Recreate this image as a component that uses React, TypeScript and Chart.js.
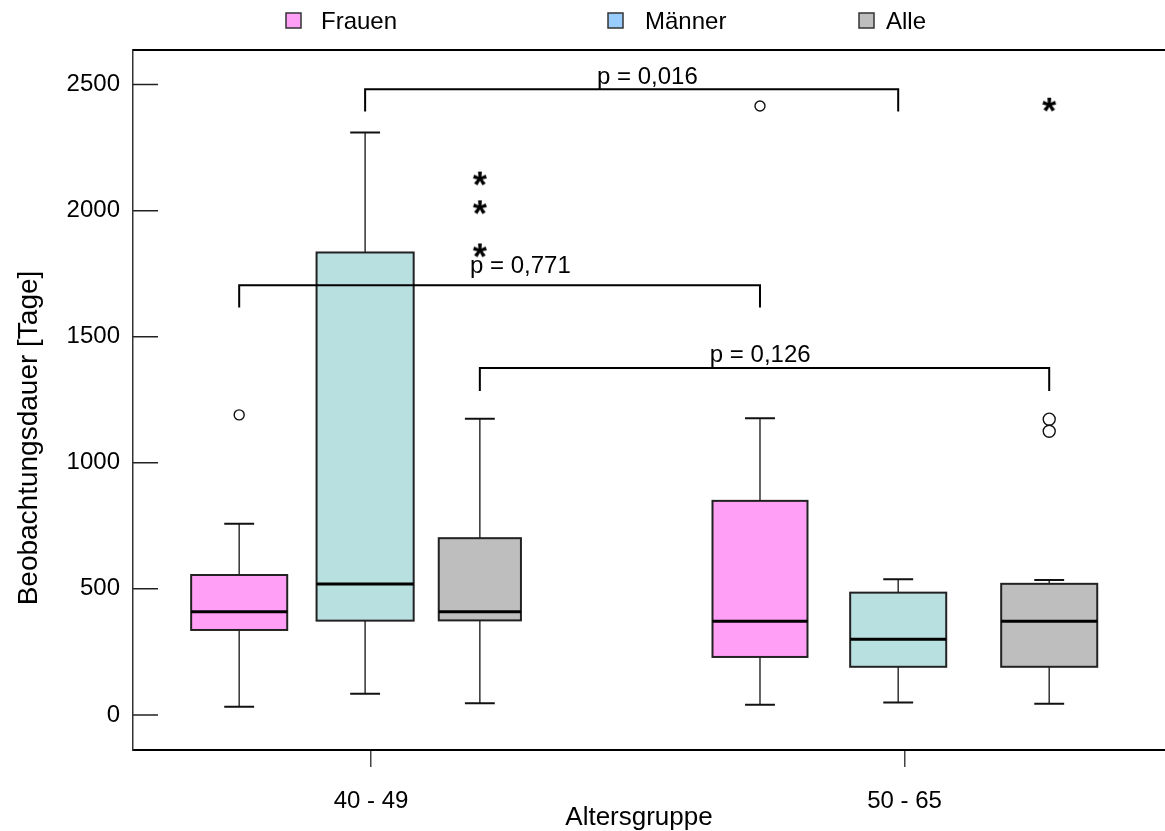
import React, { useEffect, useRef } from 'react';
import { Chart, registerables } from 'chart.js';

Chart.register(...registerables);

// ---- data ----
const ageGroups = ['40 - 49', '50 - 65'];
const seriesNames = ['Frauen', 'Männer', 'Alle'];
const durationTicks = [0, 500, 1000, 1500, 2000, 2500];

// per age group: [lower whisker, Q1, median, Q3, upper whisker] in days
const frauenStats = [[33, 337, 409, 555, 758], [40, 230, 372, 849, 1177]];
const maennerStats = [[84, 374, 519, 1834, 2310], [49, 191, 300, 485, 538]];
const alleStats = [[46, 375, 409, 701, 1175], [44, 191, 372, 520, 535]];

// outliers (circles) and extreme values (asterisks) per age group
const frauenOutliers = [[1190], [2415]];
const maennerOutliers: number[][] = [[], []];
const alleOutliers = [[], [1173, 1125]];
const alleExtremes = [[1842, 2013, 2127], [2420]];

// group comparisons: which series is compared between the age groups
const pLabels = ['p = 0,016', 'p = 0,771', 'p = 0,126'];
const pSeries = [1, 0, 2];

// ---- layout & style ----
const FONT = '"Liberation Sans", Arial, Helvetica, sans-serif';
const boxFill = ['#FF9FF6', '#B9E0E1', '#BEBEBE'];
const legendFill = ['#FF9FF6', '#99CCFF', '#BEBEBE'];

const boxLayout = {
  offsets: [[-0.247, -0.271], [-0.011, -0.012], [0.204, 0.271]],
  widths: [[0.18, 0.178], [0.182, 0.18], [0.154, 0.18]],
  cap: 0.056,
};

const bracketLayout = {
  level: [2481, 1704, 1376],
  drop: [2393, 1616, 1285],
  labelX: [1.4236, 1.1856, 1.635],
  labelY: [2503, 1751, 1400],
};

const legendLayout = [
  { box: 286, text: 321 },
  { box: 608, text: 645 },
  { box: 859, text: 886 },
];

const allStats = [frauenStats, maennerStats, alleStats];

function posOf(series: number, group: number) {
  return group + 1 + boxLayout.offsets[series][group];
}

function makeAsterisk(): HTMLCanvasElement {
  const size = 24;
  const c = document.createElement('canvas');
  c.width = size;
  c.height = size;
  const g = c.getContext('2d')!;
  g.font = `bold 36px ${FONT}`;
  g.fillStyle = '#000';
  const m = g.measureText('*');
  const w = m.actualBoundingBoxLeft + m.actualBoundingBoxRight;
  const h = m.actualBoundingBoxAscent + m.actualBoundingBoxDescent;
  const x = (size - w) / 2 + m.actualBoundingBoxLeft;
  const y = (size - h) / 2 + m.actualBoundingBoxAscent;
  g.fillText('*', x, y);
  return c;
}

const boxPlotPlugin = {
  id: 'boxPlot',
  beforeDatasetsDraw(chart: any) {
    const { ctx, scales } = chart;
    const x = scales.x;
    const y = scales.y;
    const unit = (v: number) => x.getPixelForValue(v) - x.getPixelForValue(0);
    ctx.save();
    allStats.forEach((stats, s) => {
      stats.forEach(([lo, q1, med, q3, hi], g) => {
        const cx = x.getPixelForValue(posOf(s, g));
        const half = unit(boxLayout.widths[s][g]) / 2;
        const capHalf = unit(boxLayout.cap) / 2;
        const pLo = y.getPixelForValue(lo);
        const pQ1 = y.getPixelForValue(q1);
        const pMed = y.getPixelForValue(med);
        const pQ3 = y.getPixelForValue(q3);
        const pHi = y.getPixelForValue(hi);

        // whiskers
        ctx.strokeStyle = '#333';
        ctx.lineWidth = 1.5;
        ctx.beginPath();
        ctx.moveTo(cx, pHi);
        ctx.lineTo(cx, pQ3);
        ctx.moveTo(cx, pQ1);
        ctx.lineTo(cx, pLo);
        ctx.stroke();
        ctx.strokeStyle = '#111';
        ctx.lineWidth = 2;
        ctx.beginPath();
        ctx.moveTo(cx - capHalf, pHi);
        ctx.lineTo(cx + capHalf, pHi);
        ctx.moveTo(cx - capHalf, pLo);
        ctx.lineTo(cx + capHalf, pLo);
        ctx.stroke();

        // box
        ctx.fillStyle = boxFill[s];
        ctx.fillRect(cx - half, pQ3, half * 2, pQ1 - pQ3);
        ctx.strokeStyle = '#222';
        ctx.lineWidth = 2;
        ctx.strokeRect(cx - half, pQ3, half * 2, pQ1 - pQ3);

        // median
        ctx.strokeStyle = '#000';
        ctx.lineWidth = 3;
        ctx.beginPath();
        ctx.moveTo(cx - half, pMed);
        ctx.lineTo(cx + half, pMed);
        ctx.stroke();
      });
    });

    // comparison brackets with p-values
    pLabels.forEach((label, i) => {
      const s = pSeries[i];
      const x1 = x.getPixelForValue(posOf(s, 0));
      const x2 = x.getPixelForValue(posOf(s, 1));
      const yl = y.getPixelForValue(bracketLayout.level[i]);
      const yd = y.getPixelForValue(bracketLayout.drop[i]);
      ctx.strokeStyle = '#000';
      ctx.lineWidth = 2;
      ctx.beginPath();
      ctx.moveTo(x1, yd);
      ctx.lineTo(x1, yl);
      ctx.lineTo(x2, yl);
      ctx.lineTo(x2, yd);
      ctx.stroke();
      ctx.fillStyle = '#000';
      ctx.font = `24px ${FONT}`;
      ctx.textAlign = 'left';
      ctx.textBaseline = 'alphabetic';
      ctx.fillText(label, x.getPixelForValue(bracketLayout.labelX[i]), y.getPixelForValue(bracketLayout.labelY[i]));
    });
    ctx.restore();
  },
  afterDraw(chart: any) {
    const { ctx, chartArea, scales } = chart;
    const y = scales.y;
    ctx.save();
    // top frame line
    ctx.strokeStyle = '#000';
    ctx.lineWidth = 2;
    ctx.beginPath();
    ctx.moveTo(chartArea.left, chartArea.top);
    ctx.lineTo(chartArea.right, chartArea.top);
    ctx.stroke();

    // inward tick marks on the value axis
    ctx.strokeStyle = '#222';
    ctx.lineWidth = 1.5;
    ctx.beginPath();
    durationTicks.forEach((v) => {
      const py = y.getPixelForValue(v);
      ctx.moveTo(chartArea.left, py);
      ctx.lineTo(chartArea.left + 25, py);
    });
    ctx.stroke();

    // legend
    seriesNames.forEach((name, i) => {
      const L = legendLayout[i];
      ctx.fillStyle = legendFill[i];
      ctx.fillRect(L.box, 13, 15, 15);
      ctx.strokeStyle = '#333';
      ctx.lineWidth = 1.5;
      ctx.strokeRect(L.box, 13, 15, 15);
      ctx.fillStyle = '#000';
      ctx.font = `24px ${FONT}`;
      ctx.textAlign = 'left';
      ctx.textBaseline = 'alphabetic';
      ctx.fillText(name, L.text, 29);
    });

    // axis titles
    ctx.fillStyle = '#000';
    ctx.font = `26px ${FONT}`;
    ctx.textAlign = 'center';
    ctx.textBaseline = 'alphabetic';
    ctx.fillText('Altersgruppe', 639, 825);

    ctx.save();
    ctx.translate(37, 438);
    ctx.rotate(-Math.PI / 2);
    ctx.font = `28px ${FONT}`;
    ctx.fillText('Beobachtungsdauer [Tage]', 0, 0);
    ctx.restore();

    ctx.restore();
  },
};

export default function App() {
  const canvasRef = useRef<HTMLCanvasElement | null>(null);

  useEffect(() => {
    document.body.style.margin = '0';
    const canvas = canvasRef.current;
    if (!canvas) return;

    const toPoints = (lists: number[][], s: number) =>
      lists.flatMap((vals, g) => vals.map((v) => ({ x: posOf(s, g), y: v })));

    const asterisk = makeAsterisk();

    const chart = new Chart(canvas, {
      type: 'scatter',
      data: {
        datasets: [
          {
            label: 'Ausreißer Frauen',
            data: toPoints(frauenOutliers, 0),
            pointStyle: 'circle',
            pointRadius: 5,
            pointBorderWidth: 1.4,
            pointBorderColor: '#111',
            pointBackgroundColor: '#fff',
          },
          {
            label: 'Ausreißer Männer',
            data: toPoints(maennerOutliers, 1),
            pointStyle: 'circle',
            pointRadius: 5,
            pointBorderWidth: 1.4,
            pointBorderColor: '#111',
            pointBackgroundColor: '#fff',
          },
          {
            label: 'Ausreißer Alle',
            data: toPoints(alleOutliers, 2),
            pointStyle: 'circle',
            pointRadius: 6,
            pointBorderWidth: 1.4,
            pointBorderColor: '#111',
            pointBackgroundColor: '#fff',
          },
          {
            label: 'Extremwerte Alle',
            data: toPoints(alleExtremes, 2),
            pointStyle: asterisk as any,
            pointRadius: 8,
          },
        ],
      },
      options: {
        animation: false,
        responsive: false,
        layout: { autoPadding: false, padding: { top: 50, right: 0, left: 0, bottom: 0 } },
        plugins: {
          legend: { display: false },
          tooltip: { enabled: false },
        },
        scales: {
          x: {
            type: 'linear',
            min: 0.554,
            max: 2.488,
            afterBuildTicks: (scale: any) => {
              scale.ticks = ageGroups.map((_, i) => ({ value: i + 1 }));
            },
            afterFit: (scale: any) => {
              scale.height = 81;
              scale.paddingLeft = 0;
              scale.paddingRight = 0;
            },
            ticks: {
              autoSkip: false,
              maxRotation: 0,
              padding: 20,
              color: '#000',
              font: { family: FONT, size: 24 },
              callback: (v: any) => ageGroups[Number(v) - 1] ?? '',
            },
            grid: {
              display: true,
              drawOnChartArea: false,
              drawTicks: true,
              tickLength: 17,
              color: '#444',
              lineWidth: 1.5,
            },
            border: { display: true, color: '#000', width: 2 },
          },
          y: {
            type: 'linear',
            min: -139,
            max: 2637,
            afterBuildTicks: (scale: any) => {
              scale.ticks = durationTicks.map((v) => ({ value: v }));
            },
            afterFit: (scale: any) => {
              scale.width = 133;
              scale.paddingTop = 0;
              scale.paddingBottom = 0;
            },
            ticks: {
              padding: 13,
              color: '#000',
              font: { family: FONT, size: 24 },
              callback: (v: any) => String(v),
            },
            grid: { display: false, drawTicks: false },
            border: { display: true, color: '#333', width: 1.5 },
          },
        },
      },
      plugins: [boxPlotPlugin],
    });

    return () => chart.destroy();
  }, []);

  return (
    <div style={{ width: 1165, height: 831, background: '#fff' }}>
      <canvas ref={canvasRef} width={1165} height={831} style={{ display: 'block' }} />
    </div>
  );
}
